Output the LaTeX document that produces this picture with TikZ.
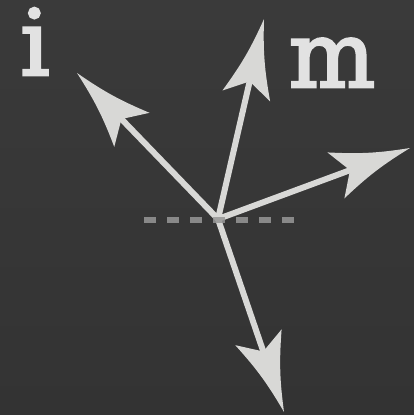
\documentclass[tikz,border=0pt]{standalone}
\usepackage{fontspec}
\setmainfont{DejaVu Serif}
\newfontfamily\letterfont[FakeBold=3]{DejaVu Serif}
\usetikzlibrary{calc}
\definecolor{bgtop}{HTML}{3A3A3A}
\definecolor{bgbot}{HTML}{333333}
\definecolor{arrowc}{HTML}{D8D8D6}
\definecolor{dashc}{HTML}{979797}
\definecolor{letterc}{HTML}{E2E2E2}
\tikzset{
  shaft/.style={draw=arrowc, line width=6pt, line cap=butt},
  headfill/.style={fill=arrowc},
  dashline/.style={draw=dashc, draw opacity=0.86, line width=6.5pt, dash pattern=on 12pt off 11pt},
  letter/.style={text=letterc, inner sep=0pt, anchor=base, font=\letterfont\fontsize{91}{91}\selectfont}
}
\newcommand{\arrowto}[2]{%
  \draw[shaft] (#1) -- ($(#2)!62pt!(#1)$);
  \fill[headfill] (#2)
    to[bend left=6] ($(#2)!79pt!(#1)!24.5pt!90:(#2)$)
    -- ($(#2)!64pt!(#1)$)
    -- ($(#2)!79pt!(#1)!24.5pt!-90:(#2)$)
    to[bend left=6] cycle;
}
\begin{document}
\begin{tikzpicture}[x=1pt,y=-1pt]
  \shade[top color=bgtop, bottom color=bgbot] (0,0) rectangle (414,415);
  \useasboundingbox (0,0) rectangle (414,415);
  \coordinate (c) at (218,219);
  \coordinate (tl) at (77,73);
  \coordinate (tt) at (264,19);
  \coordinate (tr) at (410,148);
  \coordinate (tb) at (284,412);
  \coordinate (dl) at (144,220);
  \coordinate (dr) at (294,220);
  \arrowto{c}{tl}
  \arrowto{c}{tt}
  \arrowto{c}{tr}
  \arrowto{c}{tb}
  \draw[dashline] (dl) -- (dr);
  \node[letter] (i) at (35,75) {i};
  \node[letter] (m) at (332,87) {m};
\end{tikzpicture}
\end{document}
